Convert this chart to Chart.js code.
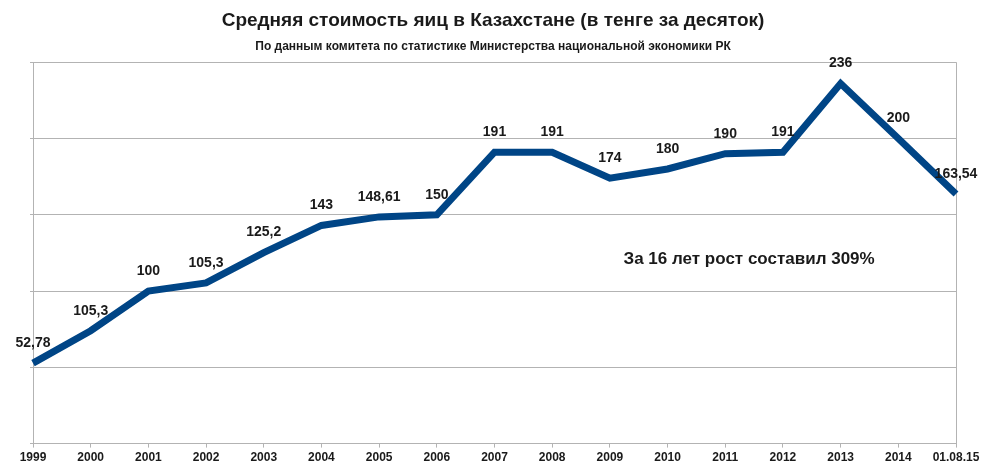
<!DOCTYPE html>
<html>
<head>
<meta charset="utf-8">
<script src="https://cdn.jsdelivr.net/npm/chart.js@4/dist/chart.umd.min.js"></script>
<style>
    body { margin: 0; background: #ffffff; }
    #wrap { width: 1000px; height: 473px; position: relative; }
</style>
</head>
<body>
<div id="wrap"><canvas id="eggChart"></canvas></div>
<script>
// Categories and values
const years = ['1999', '2000', '2001', '2002', '2003', '2004', '2005', '2006', '2007',
    '2008', '2009', '2010', '2011', '2012', '2013', '2014', '01.08.15'];
// 2000 is drawn lower than its label says, so the line value is kept as drawn
const prices = [52.78, 74, 100, 105.3, 125.2, 143, 148.61, 150, 191,
    191, 174, 180, 190, 191, 236, 200, 163.54];
const priceLabels = ['52,78', '105,3', '100', '105,3', '125,2', '143', '148,61', '150', '191',
    '191', '174', '180', '190', '191', '236', '200', '163,54'];
const yMin = 0;
const yMax = 250;
const yStep = 50;
const noteText = 'За 16 лет рост составил 309%';

const gridGray = '#b3b3b3';
const fontFamily = '"Liberation Sans", Arial, sans-serif';

// Draw the value labels above points and the note
const labelPlugin = {
    id: 'valueLabels',
    afterDatasetsDraw(chart) {
        const ctx = chart.ctx;
        const meta = chart.getDatasetMeta(0);
        ctx.save();
        ctx.font = 'bold 14px ' + fontFamily;
        ctx.fillStyle = '#1a1a1a';
        ctx.textAlign = 'center';
        ctx.textBaseline = 'middle';
        meta.data.forEach((pt, i) => {
            ctx.fillText(priceLabels[i], pt.x, pt.y - 20);
        });

        // note between 2011 and 2012
        const xs = chart.scales.x;
        const ys = chart.scales.y;
        const nx = (xs.getPixelForValue(12) + xs.getPixelForValue(13)) / 2 - 5;
        const ny = ys.getPixelForValue(121);
        ctx.font = 'bold 17px ' + fontFamily;
        ctx.fillText(noteText, nx, ny);
        ctx.restore();
    }
};

const ctx = document.getElementById('eggChart').getContext('2d');
const lastIndex = years.length - 1;

new Chart(ctx, {
    type: 'line',
    data: {
        labels: years,
        datasets: [{
            data: prices,
            borderColor: '#004586',
            borderWidth: 7,
            pointRadius: 0,
            tension: 0,
            fill: false,
            borderJoinStyle: 'miter'
        }]
    },
    options: {
        responsive: true,
        maintainAspectRatio: false,
        animation: false,
        layout: {
            padding: { top: 0, right: 44, bottom: 5, left: 30 }
        },
        plugins: {
            legend: { display: false },
            tooltip: { enabled: false },
            title: {
                display: true,
                text: 'Средняя стоимость яиц в Казахстане (в тенге за десяток)',
                color: '#1a1a1a',
                font: { family: fontFamily, size: 19, weight: 'bold' },
                padding: { top: 9, bottom: 4 }
            },
            subtitle: {
                display: true,
                text: 'По данным комитета по статистике Министерства национальной экономики РК',
                color: '#1a1a1a',
                font: { family: fontFamily, size: 12, weight: 'bold' },
                padding: { top: 4, bottom: 8 }
            }
        },
        scales: {
            x: {
                offset: false,
                grid: {
                    color: (c) => c.index === lastIndex ? gridGray : 'rgba(0,0,0,0)',
                    tickColor: gridGray,
                    tickLength: 4,
                    lineWidth: 1
                },
                border: { color: gridGray },
                ticks: {
                    color: '#1a1a1a',
                    font: { family: fontFamily, size: 12, weight: 'bold' },
                    padding: 3,
                    maxRotation: 0,
                    autoSkip: false
                }
            },
            y: {
                min: yMin,
                max: yMax,
                grid: {
                    color: gridGray,
                    tickLength: 3,
                    lineWidth: 1
                },
                border: { color: gridGray },
                ticks: {
                    display: false,
                    stepSize: yStep
                }
            }
        }
    },
    plugins: [labelPlugin]
});
</script>
</body>
</html>
